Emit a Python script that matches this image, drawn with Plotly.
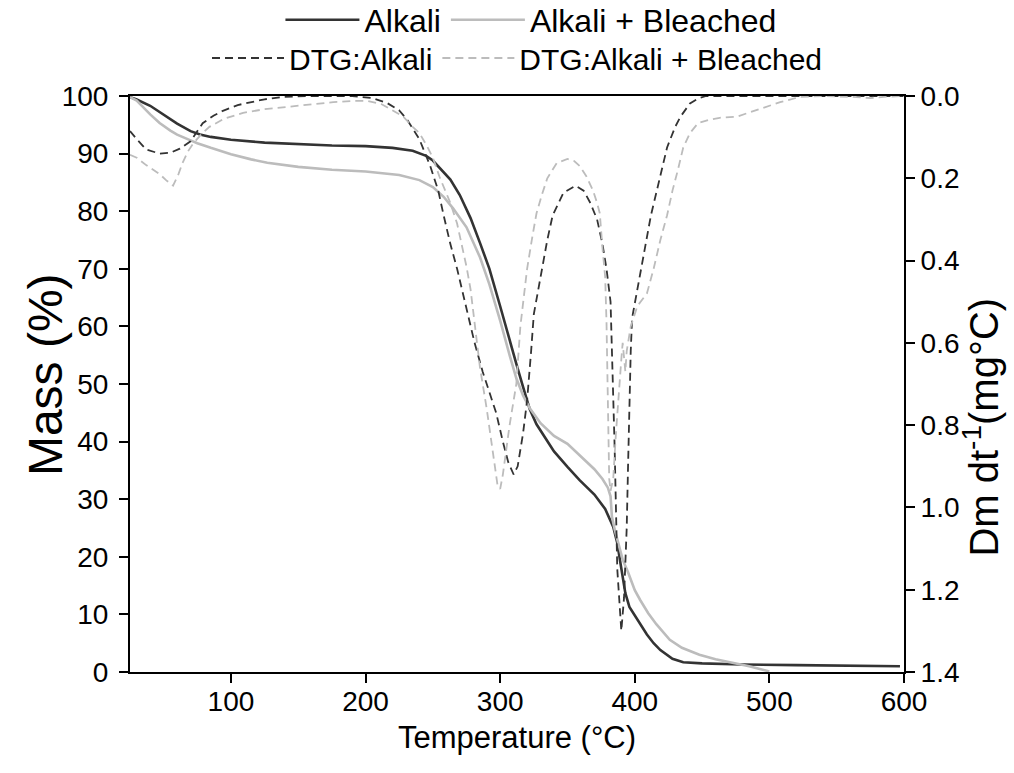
import plotly.graph_objects as go

# ---- TGA: Alkali (dark solid) ----
t_alk = [25, 30, 40, 50, 60, 70, 77, 85, 100, 125, 150, 175, 200, 220, 235, 245, 250, 255,
         263, 270, 278, 285, 292, 300, 307, 312, 317, 322, 327, 333, 340, 350, 359, 370, 378,
         384, 387, 389, 391, 393, 396, 400, 404, 409, 414, 419, 428, 436, 450, 480, 520, 560, 597]
m_alk = [99.8, 99.4, 98.3, 96.8, 95.2, 93.9, 93.3, 92.9, 92.4, 91.9, 91.6, 91.4, 91.3, 91.0,
         90.5, 89.6, 88.8, 87.6, 85.5, 82.8, 78.8, 74.5, 70.0, 63.5, 57.5, 53.5, 49.5, 45.6,
         43.0, 40.8, 38.3, 35.6, 33.3, 30.8, 28.3, 25.2, 22.4, 19.4, 16.4, 13.7, 11.3, 9.8,
         8.3, 6.5, 5.0, 3.8, 2.3, 1.7, 1.5, 1.3, 1.2, 1.1, 1.0]

# ---- TGA: Alkali + Bleached (light solid) ----
t_bl = [25, 30, 40, 47, 55, 60, 70, 75, 85, 100, 115, 127, 150, 175, 200, 225, 240, 250, 258,
        265, 275, 285, 292, 300, 307, 312, 317, 322, 330, 340, 350, 360, 370, 376, 380, 382,
        383, 385, 388, 391, 395, 400, 404, 410, 416, 426, 435, 448, 460, 473, 485, 495, 500]
m_bl = [99.8, 99.2, 96.8, 95.3, 94.0, 93.3, 92.3, 91.8, 91.0, 89.9, 89.0, 88.4, 87.7, 87.2,
        86.9, 86.3, 85.4, 84.2, 82.5, 80.5, 77.2, 72.0, 67.3, 61.0, 55.0, 51.0, 48.0, 45.8,
        43.2, 41.0, 39.6, 37.4, 35.2, 33.5, 32.0, 30.5, 27.0, 24.8, 22.2, 19.5, 17.3, 14.2,
        12.5, 10.2, 8.3, 5.6, 4.2, 3.0, 2.2, 1.6, 1.0, 0.4, 0.1]

# ---- DTG: Alkali (dark dashed) ----
t_dalk = [25, 30, 37, 47, 55, 62, 70, 79, 87, 94, 105, 114, 125, 139, 160, 190, 205, 216, 225,
          231, 240, 248, 254, 258, 263, 268, 275, 281, 287, 292, 297, 302, 306, 310, 313, 317,
          320, 323, 325, 330, 335, 339, 347, 356, 362, 367, 372, 376, 379, 382, 383, 385, 387,
          390, 392, 394, 395, 396, 397, 398, 403, 408, 412, 416, 420, 424, 430, 434, 441, 447,
          453, 500, 550, 600]
d_alk = [0.085, 0.105, 0.13, 0.14, 0.138, 0.128, 0.11, 0.066, 0.048, 0.036, 0.022, 0.015, 0.008,
         0.002, 0.0, 0.0, 0.005, 0.017, 0.035, 0.058, 0.105, 0.17, 0.23, 0.29, 0.36, 0.42, 0.52,
         0.60, 0.67, 0.72, 0.77, 0.84, 0.89, 0.92, 0.90, 0.82, 0.74, 0.62, 0.53, 0.44, 0.35,
         0.29, 0.235, 0.218, 0.23, 0.26, 0.30, 0.36, 0.42, 0.50, 0.60, 0.85, 1.15, 1.30, 1.22,
         1.05, 0.90, 0.75, 0.62, 0.54, 0.45, 0.36, 0.29, 0.235, 0.18, 0.125, 0.075, 0.05,
         0.018, 0.006, 0.0, 0.0, 0.0, 0.0]

# ---- DTG: Alkali + Bleached (light dashed) ----
t_dbl = [25, 30, 37, 47, 52, 57, 61, 64, 68, 72, 78, 84, 95, 109, 125, 139, 160, 176, 190, 201,
         212, 220, 228, 235, 240, 246, 250, 255, 258, 263, 268, 272, 275, 278, 281, 285, 290,
         294, 298, 300, 302, 307, 312, 315, 317, 320, 324, 327, 331, 335, 342, 350, 355, 359,
         364, 369, 372, 374, 376, 378, 379, 380, 381, 382, 384, 386, 388, 390, 391, 392, 393,
         394, 397, 402, 409, 414, 419, 424, 428, 432, 436, 441, 447, 455, 463, 476, 491, 508,
         523, 540, 560, 575, 585, 600]
d_bl = [0.143, 0.15, 0.168, 0.19, 0.205, 0.218, 0.19, 0.163, 0.135, 0.115, 0.093, 0.075, 0.055,
        0.041, 0.032, 0.027, 0.02, 0.015, 0.012, 0.012, 0.02, 0.034, 0.05, 0.075, 0.09, 0.124,
        0.15, 0.197, 0.22, 0.26, 0.31, 0.37, 0.415, 0.47, 0.55, 0.66, 0.76, 0.85, 0.945, 0.955,
        0.92, 0.80, 0.70, 0.56, 0.50, 0.42, 0.34, 0.285, 0.24, 0.20, 0.163, 0.153, 0.158, 0.17,
        0.195, 0.23, 0.26, 0.285, 0.37, 0.44, 0.55, 0.75, 0.93, 0.96, 0.93, 0.82, 0.72, 0.64,
        0.60, 0.63, 0.67, 0.62, 0.56, 0.51, 0.48, 0.42, 0.35, 0.29, 0.23, 0.18, 0.125, 0.09,
        0.066, 0.058, 0.053, 0.05, 0.034, 0.015, 0.002, 0.0, 0.002, 0.005, 0.002, 0.0]

x_ticks = [100, 200, 300, 400, 500, 600]
y_ticks = [0, 10, 20, 30, 40, 50, 60, 70, 80, 90, 100]
y2_ticks = [0.0, 0.2, 0.4, 0.6, 0.8, 1.0, 1.2, 1.4]

DARK = "#333333"
LIGHT = "#bcbcbc"
FONT = "Arial, Liberation Sans, sans-serif"

fig = go.Figure()
fig.add_trace(go.Scatter(x=t_alk, y=m_alk, name="Alkali", mode="lines",
                         line=dict(color=DARK, width=2.6), legend="legend"))
fig.add_trace(go.Scatter(x=t_bl, y=m_bl, name="Alkali + Bleached", mode="lines",
                         line=dict(color=LIGHT, width=2.6), legend="legend"))
fig.add_trace(go.Scatter(x=t_dalk, y=d_alk, name="DTG:Alkali", mode="lines", yaxis="y2",
                         line=dict(color=DARK, width=1.8, dash="8px,5px"), legend="legend2"))
fig.add_trace(go.Scatter(x=t_dbl, y=d_bl, name="DTG:Alkali + Bleached", mode="lines", yaxis="y2",
                         line=dict(color=LIGHT, width=1.8, dash="8px,5px"), legend="legend2"))

axis_common = dict(showline=True, linecolor="black", linewidth=2, ticks="outside",
                   ticklen=9, tickwidth=2, tickcolor="black", showgrid=False, zeroline=False,
                   tickfont=dict(family=FONT, size=28, color="black"))

fig.update_layout(
    width=1014, height=773,
    margin=dict(l=130, r=110, t=96, b=101, autoexpand=False),
    plot_bgcolor="white", paper_bgcolor="white",
    font=dict(family=FONT, color="black"),
    xaxis=dict(range=[25, 600], tickvals=x_ticks, mirror=True, ticklabelstandoff=-6,
               title=dict(text="Temperature (°C)", font=dict(size=31), standoff=11),
               **axis_common),
    yaxis=dict(range=[0, 100], tickvals=y_ticks, ticklabelstandoff=5, **axis_common),
    yaxis2=dict(range=[1.4, 0], tickvals=y2_ticks, tickformat=".1f", overlaying="y",
                side="right", anchor="x", **axis_common),
    legend=dict(orientation="h", x=0.518, xanchor="center", y=1.132, yanchor="middle",
                font=dict(family=FONT, size=32), itemwidth=74, bgcolor="rgba(0,0,0,0)"),
    legend2=dict(orientation="h", x=0.5, xanchor="center", y=1.066, yanchor="middle",
                 font=dict(family=FONT, size=30), itemwidth=72, bgcolor="rgba(0,0,0,0)"),
    showlegend=True,
    annotations=[
        dict(text="Mass (%)", textangle=-90, xref="paper", yref="paper",
             x=-0.11, y=0.517, xanchor="center", yanchor="middle", showarrow=False,
             font=dict(family=FONT, size=48, color="black")),
        dict(text="Dm dt<sup>-1</sup>(mg°C)", textangle=-90, xref="paper", yref="paper",
             x=1.1, y=0.425, xanchor="center", yanchor="middle", showarrow=False,
             font=dict(family=FONT, size=40, color="black")),
    ],
)

fig.write_html("out.html")
